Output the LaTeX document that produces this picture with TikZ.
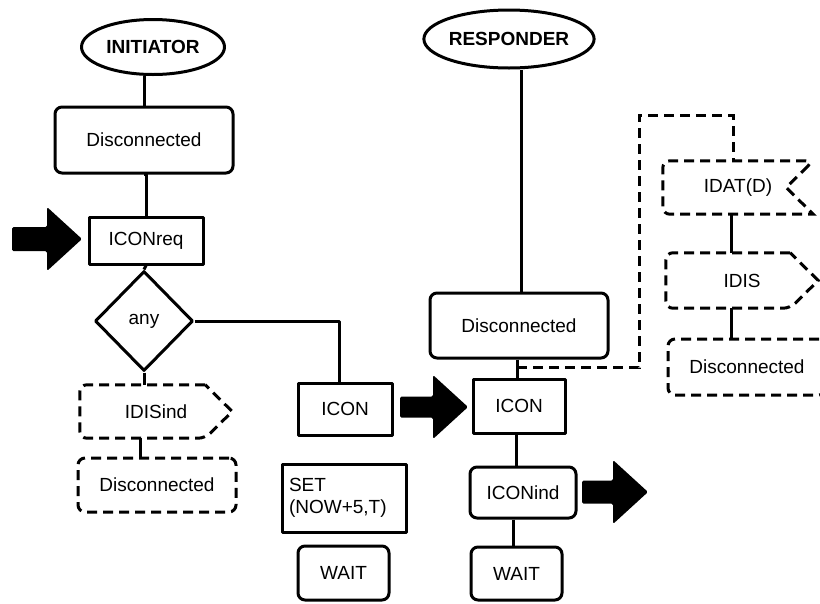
\documentclass[tikz,border=0pt]{standalone}
\usepackage{fontspec}
\setmainfont{Liberation Sans}
\usetikzlibrary{shapes.geometric,calc}
\tikzset{
  every node/.style={font=\fontsize{19}{22}\selectfont, inner sep=0pt},
  ln/.style={line width=3pt, line join=round},
  dl/.style={line width=3pt, dash pattern=on 10pt off 6pt},
  roundbox/.style={draw, ln, rounded corners=7pt},
  rectbox/.style={draw, ln},
  dashbox/.style={draw, dl, rounded corners=7pt},
  actor/.style={draw, ln, ellipse, font=\fontsize{19}{22}\selectfont\bfseries},
  blk/.style={fill=black, rounded corners=1.5pt},
}
\newcommand\blockarrow[4]{% tip x, tip y, tail x, shaft half-height
  \fill[blk] (#1,#2) -- (#1-35,#2-32) -- (#1-35,#2-#4) -- (#3,#2-#4) -- (#3,#2+#4) -- (#1-35,#2+#4) -- (#1-35,#2+32) -- cycle;}
\begin{document}
\begin{tikzpicture}[x=1pt,y=-1pt]
\useasboundingbox (0,0) rectangle (820,603);
% left column
\node[actor, minimum width=143pt, minimum height=55pt] (ini) at (153,47) {INITIATOR};
\node[roundbox, minimum width=178pt, minimum height=66pt] (disc1) at (144,140) {Disconnected};
\node[rectbox, minimum width=114pt, minimum height=47pt] (iconreq) at (146,240.5) {ICONreq};
\node[draw, ln, diamond, minimum width=98pt, minimum height=100pt] (dia) at (144,321) {any};
\node[minimum width=152pt, minimum height=53pt] (idisind) at (156,411.5) {IDISind};
\node[dashbox, minimum width=158pt, minimum height=54pt] (disc2) at (157,485) {Disconnected};
% middle column
\node[rectbox, minimum width=94pt, minimum height=52pt] (icon1) at (345,409) {ICON};
\node[rectbox, minimum width=124pt, minimum height=68pt, align=left, text width=110pt] (set) at (344,498) {SET\\(NOW+5,T)};
\node[roundbox, minimum width=91pt, minimum height=54pt] (wait1) at (343.5,573) {WAIT};
% responder column
\node[actor, minimum width=137pt, minimum height=58pt] (resp) at (509,39) {RESPONDER};
\node[roundbox, minimum width=178pt, minimum height=65pt] (disc3) at (519,325.5) {Disconnected};
\node[rectbox, minimum width=92pt, minimum height=54pt] (icon2) at (519,406) {ICON};
\node[roundbox, minimum width=106pt, minimum height=51pt] (iconind) at (523,492.5) {ICONind};
\node[roundbox, minimum width=91pt, minimum height=53pt] (wait2) at (516.5,573.5) {WAIT};
% right column
\node[minimum width=150pt, minimum height=53pt] (idat) at (738,187.5) {IDAT(D)};
\node[minimum width=152pt, minimum height=55pt] (idis) at (742,280.5) {IDIS};
\node[dashbox, minimum width=158pt, minimum height=56pt] (disc4) at (747,367) {Disconnected};
% special outlines
\draw[dl] ([xshift=-27pt]idisind.north east) [rounded corners=7pt] -- (idisind.north west) -- (idisind.south west) -- ([xshift=-27pt]idisind.south east) [sharp corners] -- (idisind.east) -- cycle;
\draw[dl] (idat.north east) -- ([xshift=-27pt]idat.east) -- (idat.south east) [rounded corners=7pt] -- (idat.south west) -- (idat.north west) -- cycle;
\draw[dl] ([xshift=-28pt]idis.north east) [rounded corners=7pt] -- (idis.north west) -- (idis.south west) -- ([xshift=-28pt]idis.south east) [sharp corners] -- (idis.east) -- cycle;
% connectors
\draw[ln] (disc1.north) -- (disc1.north |- ini.south);
\draw[ln] (disc1.south) -- (disc1.south -| iconreq.north) -- (iconreq.north);
\draw[ln] (iconreq.south) -- (dia.north);
\draw[ln] (dia.east) -| ([xshift=-6pt]icon1.north);
\draw[ln] (dia.south) -- (dia.south |- idisind.north);
\draw[ln] ([xshift=-4pt]dia.south |- idisind.south) -- ([xshift=-4pt]dia.south |- disc2.north);
\draw[ln] ([xshift=2pt]disc3.north) -- ([xshift=2pt]disc3.north |- resp.south);
\draw[ln] ([xshift=-2pt]disc3.south -| icon2.north) -- ([xshift=-2pt]icon2.north);
\coordinate (dj) at ($([xshift=-2pt]disc3.south -| icon2.north)!0.45!([xshift=-2pt]icon2.north)$);
\coordinate (dtop) at (639,115);
\draw[dl] (dj) -| (dtop) -| ([xshift=-5pt]idat.north);
\draw[ln] ([xshift=-7pt]idat.south) -- ([xshift=-7pt]idat.south |- idis.north);
\draw[ln] ([xshift=-7pt]idat.south |- idis.south) -- ([xshift=-7pt]idat.south |- disc4.north);
\draw[ln] ([xshift=-3pt]icon2.south) -- ([xshift=-3pt]icon2.south |- iconind.north);
\draw[ln] ([xshift=-6pt]icon2.south |- iconind.south) -- ([xshift=-6pt]icon2.south |- wait2.north);
% block arrows
\blockarrow{82}{239}{12}{12}
\blockarrow{468}{407}{400}{10.5}
\blockarrow{648}{492}{582}{11.5}
\end{tikzpicture}
\end{document}
